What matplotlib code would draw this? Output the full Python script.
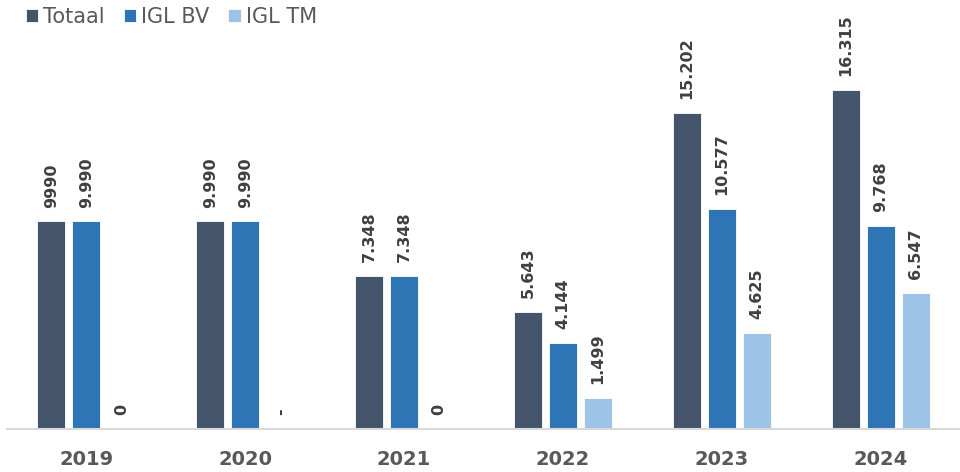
import matplotlib.pyplot as plt
import numpy as np

years = ['2019', '2020', '2021', '2022', '2023', '2024']
series_names = ['Totaal', 'IGL BV', 'IGL TM']
totaal = [9990, 9990, 7348, 5643, 15202, 16315]
igl_bv = [9990, 9990, 7348, 4144, 10577, 9768]
igl_tm = [0, 0, 0, 1499, 4625, 6547]
# labels as printed in the chart
totaal_labels = ['9990', '9.990', '7.348', '5.643', '15.202', '16.315']
igl_bv_labels = ['9.990', '9.990', '7.348', '4.144', '10.577', '9.768']
igl_tm_labels = ['0', '-', '0', '1.499', '4.625', '6.547']

colors = ['#44546A', '#2E75B6', '#9DC3E6']
text_col = '#404040'

plt.rcParams['font.family'] = ['DejaVu Sans']

fig = plt.figure(figsize=(9.6, 4.72), dpi=100)
ax = fig.add_axes([7 / 960, 1 - 429 / 472, 953 / 960, 374 / 472])

x = np.arange(len(years))
step = 0.22
width = 0.176
all_vals = [totaal, igl_bv, igl_tm]
all_labels = [totaal_labels, igl_bv_labels, igl_tm_labels]
for i, (vals, labs) in enumerate(zip(all_vals, all_labels)):
    pos = x + (i - 1) * step
    ax.bar(pos, vals, width, color=colors[i], label=series_names[i],
           edgecolor='white', linewidth=0.6, zorder=2)
    for px, v, lab in zip(pos, vals, labs):
        ax.annotate(lab, (px, v), xytext=(0, 10), textcoords='offset points',
                    rotation=90, ha='center', va='bottom', fontsize=11.5,
                    fontweight='bold', color=text_col)

ax.set_xlim(-0.5, len(years) - 0.5)
ax.set_ylim(0, 18000)
ax.set_xticks(x)
ax.set_xticklabels(years, fontsize=14, fontweight='bold', color='#595959')
ax.tick_params(axis='x', length=0, pad=15)
ax.set_yticks([])
for s in ['top', 'right', 'left']:
    ax.spines[s].set_visible(False)
ax.spines['bottom'].set_color('#D9D9D9')
ax.spines['bottom'].set_linewidth(1.5)

fig.legend(loc='upper left', bbox_to_anchor=(0.018, 1.003), ncol=3, frameon=False,
           fontsize=15, handlelength=0.6, handleheight=0.6, handletextpad=0.25,
           columnspacing=0.9, labelcolor='#595959', borderaxespad=0)

fig.savefig('out.png', dpi=100)
